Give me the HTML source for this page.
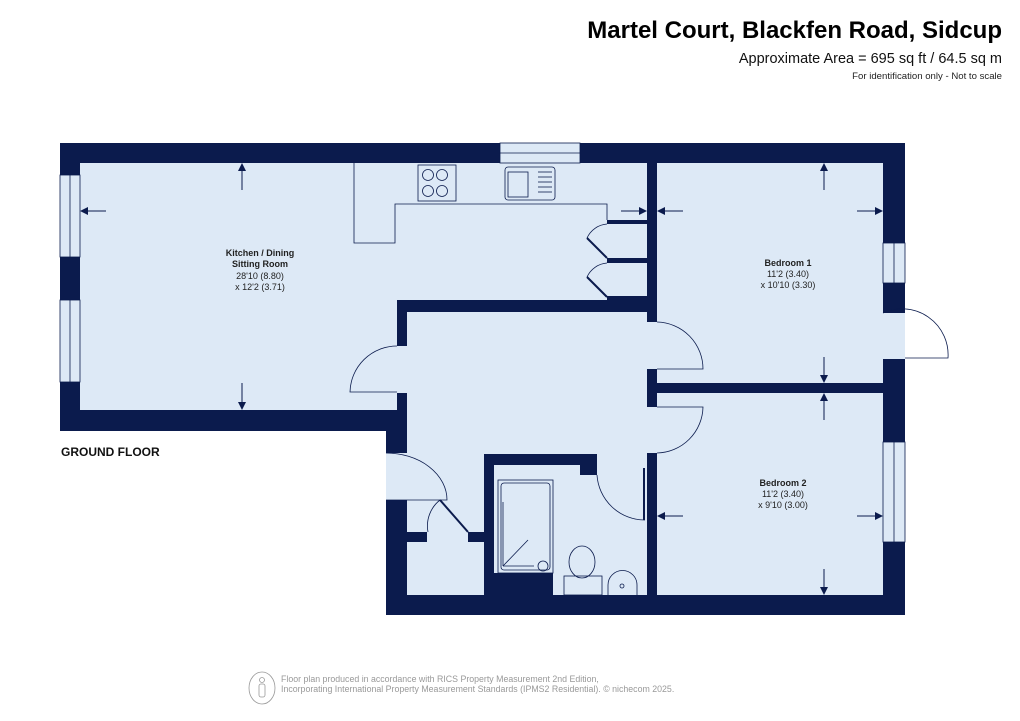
<!DOCTYPE html>
<html><head><meta charset="utf-8"><style>
body{margin:0;background:#fff;width:1020px;height:721px;overflow:hidden}
svg{display:block}
text{font-family:"Liberation Sans",Arial,sans-serif}
</style></head><body>
<svg width="1020" height="721" viewBox="0 0 1020 721" xmlns="http://www.w3.org/2000/svg">
<defs>
<marker id="ah" markerWidth="8" markerHeight="8" refX="7" refY="4" orient="auto" markerUnits="userSpaceOnUse"><path d="M0,0 L8,4 L0,8 z" fill="#0b1b4d"/></marker>
</defs>
<text x="1002" y="38" text-anchor="end" font-size="24" font-weight="bold" fill="#000">Martel Court, Blackfen Road, Sidcup</text>
<text x="1002" y="63" text-anchor="end" font-size="14.5" fill="#111">Approximate Area = 695 sq ft / 64.5 sq m</text>
<text x="1002" y="79" text-anchor="end" font-size="9.6" fill="#222">For identification only - Not to scale</text>

<polygon points="60,143 905,143 905,615 386,615 386,431 60,431" fill="#0b1b4d"/>
<polygon points="80,163 883,163 883,595 407,595 407,410 80,410" fill="#dde9f6"/>
<g fill="#dde9f6" stroke="#0b1b4d" stroke-width="0.8">
<rect x="500" y="143" width="80" height="20"/><line x1="500" y1="153" x2="580" y2="153"/>
<rect x="60" y="175" width="20" height="82"/><line x1="70" y1="175" x2="70" y2="257"/>
<rect x="60" y="300" width="20" height="82"/><line x1="70" y1="300" x2="70" y2="382"/>
<rect x="883" y="243" width="22" height="40"/><line x1="894" y1="243" x2="894" y2="283"/>
<rect x="883" y="442" width="22" height="100"/><line x1="894" y1="442" x2="894" y2="542"/>
</g>
<rect x="883" y="313" width="22" height="46" fill="#dde9f6"/>
<rect x="386" y="453" width="21" height="47" fill="#dde9f6"/>

<g fill="#0b1b4d">
<rect x="647" y="163" width="10" height="159"/>
<rect x="397" y="300" width="260" height="12"/>
<rect x="397" y="300" width="10" height="46"/>
<rect x="397" y="393" width="10" height="38"/>
<rect x="647" y="369" width="10" height="38"/>
<rect x="657" y="383" width="226" height="10"/>
<rect x="647" y="453" width="10" height="142"/>
<rect x="484" y="454" width="10" height="141"/>
<rect x="484" y="454" width="106" height="11"/>
<rect x="580" y="454" width="17" height="21"/>
<rect x="407" y="532" width="20" height="10"/>
<rect x="468" y="532" width="16" height="10"/>
<rect x="494" y="573" width="59" height="22"/>
<rect x="607" y="220" width="40" height="4"/>
<rect x="607" y="258" width="40" height="5"/>
<rect x="607" y="296" width="40" height="4"/>
</g>
<rect x="657" y="373" width="6" height="4" fill="#dde9f6"/>
<rect x="657" y="399" width="6" height="4" fill="#dde9f6"/>

<g fill="none" stroke="#0b1b4d" stroke-width="0.8">
<path d="M397,346 A47,47 0 0 0 350,392 L397,392"/>
<path d="M657,322 A47,47 0 0 1 703,369 L657,369"/>
<path d="M657,453 A47,47 0 0 0 703,407 L657,407"/>
<path d="M883,313 A46,46 0 0 1 948,358 L905,358"/>
<path d="M386,453 A61,47 0 0 1 447,500 L386,500"/>
<path d="M597,475 A48,48 0 0 0 645,520"/>
<path d="M440,500 A33,33 0 0 0 428,532"/>
<line x1="440" y1="500" x2="468" y2="532" stroke-width="2"/>
<path d="M607,224 A24,24 0 0 0 587,238"/>
<line x1="587" y1="238" x2="607" y2="258" stroke-width="2"/>
<path d="M607,263 A24,24 0 0 0 587,277"/>
<line x1="587" y1="277" x2="607" y2="297" stroke-width="2"/>
<path d="M354,163 L354,243 L395,243 L395,204 L607,204 L607,220"/>
<rect x="418" y="165" width="38" height="36"/>
<circle cx="428" cy="175" r="5.5"/><circle cx="442" cy="175" r="5.5"/>
<circle cx="428" cy="191" r="5.5"/><circle cx="442" cy="191" r="5.5"/>
<rect x="505" y="167" width="50" height="33" rx="3"/>
<rect x="508" y="172" width="20" height="25"/>
<line x1="538" y1="172" x2="552" y2="172"/><line x1="538" y1="177" x2="552" y2="177"/><line x1="538" y1="182" x2="552" y2="182"/><line x1="538" y1="187" x2="552" y2="187"/><line x1="538" y1="192" x2="552" y2="192"/>
<rect x="498" y="480" width="55" height="93"/>
<rect x="501" y="483" width="49" height="87" rx="3"/>
<line x1="503" y1="502" x2="503" y2="566"/><line x1="503" y1="566" x2="534" y2="566"/><line x1="503" y1="566" x2="528" y2="540"/>
<circle cx="543" cy="566" r="5"/>
<ellipse cx="582" cy="562" rx="13" ry="16"/>
<rect x="564" y="576" width="38" height="19"/>
<path d="M608,595 L608,585 A14,14 0 0 1 637,585 L637,595"/>
<circle cx="622" cy="586" r="2"/>
<line x1="644" y1="468" x2="644" y2="520" stroke-width="2"/>
</g>

<g stroke="#0b1b4d" stroke-width="1" marker-end="url(#ah)">
<line x1="242" y1="190" x2="242" y2="164"/>
<line x1="242" y1="383" x2="242" y2="409"/>
<line x1="106" y1="211" x2="81" y2="211"/>
<line x1="621" y1="211" x2="646" y2="211"/>
<line x1="824" y1="190" x2="824" y2="164"/>
<line x1="683" y1="211" x2="658" y2="211"/>
<line x1="857" y1="211" x2="882" y2="211"/>
<line x1="824" y1="357" x2="824" y2="382"/>
<line x1="824" y1="420" x2="824" y2="394"/>
<line x1="683" y1="516" x2="658" y2="516"/>
<line x1="857" y1="516" x2="882" y2="516"/>
<line x1="824" y1="569" x2="824" y2="594"/>
</g>

<g font-size="9" fill="#222" text-anchor="middle">
<text x="260" y="256" font-weight="bold">Kitchen / Dining</text>
<text x="260" y="267" font-weight="bold">Sitting Room</text>
<text x="260" y="279">28'10 (8.80)</text>
<text x="260" y="290">x 12'2 (3.71)</text>
<text x="788" y="266" font-weight="bold">Bedroom 1</text>
<text x="788" y="277">11'2 (3.40)</text>
<text x="788" y="288">x 10'10 (3.30)</text>
<text x="783" y="486" font-weight="bold">Bedroom 2</text>
<text x="783" y="497">11'2 (3.40)</text>
<text x="783" y="508">x 9'10 (3.00)</text>
</g>
<text x="61" y="456" font-size="12" font-weight="bold" fill="#111">GROUND FLOOR</text>

<g fill="none" stroke="#999" stroke-width="0.8">
<ellipse cx="262" cy="688" rx="13" ry="16"/>
<circle cx="262" cy="680" r="2.5"/>
<rect x="259" y="684" width="6" height="13" rx="2"/>
</g>
<text x="281" y="682" font-size="8.8" fill="#999">Floor plan produced in accordance with RICS Property Measurement 2nd Edition,</text>
<text x="281" y="692" font-size="8.8" fill="#999">Incorporating International Property Measurement Standards (IPMS2 Residential).   © nichecom 2025.</text>
</svg>
</body></html>
